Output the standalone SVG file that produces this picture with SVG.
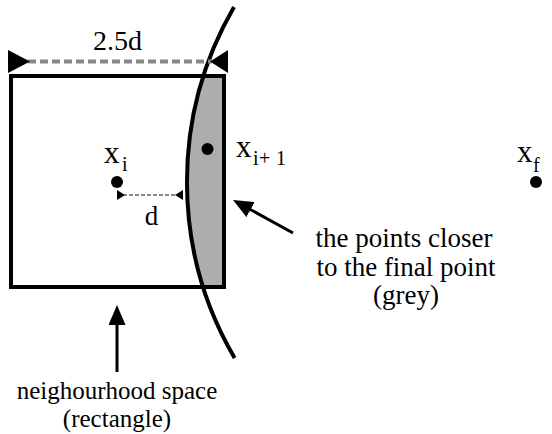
<svg xmlns="http://www.w3.org/2000/svg" width="552" height="434" viewBox="0 0 552 434" font-family="Liberation Serif, Times New Roman, DejaVu Serif, serif">
<style>
.lbl{font-size:27px;text-anchor:middle}
.var{font-size:31px}
.sub{font-size:20px}
.dim{stroke:#888;stroke-width:4;stroke-dasharray:8 4;fill:none}
.dimsm{stroke:#888;stroke-width:2;stroke-dasharray:4 2;fill:none}
.tri{fill:#000}
.arr{stroke:#000;stroke-width:3;fill:none;marker-end:url(#ah)}
</style>
<defs>
<marker id="ah" markerUnits="userSpaceOnUse" viewBox="0 0 20 17" refX="10" refY="8.5" markerWidth="20" markerHeight="17" orient="auto">
<path d="M0,0 L20,8.5 L0,17 z" fill="#000"/>
</marker>
</defs>
<g id="grey-region">
<path d="M203.5,76 L224,76 L224,287 L203.2,287 A349 349 0 0 1 203.5,76 Z" fill="#adadad"/>
</g>
<g id="rectangle">
<rect x="11" y="76" width="213" height="211" fill="none" stroke="#000" stroke-width="4"/>
</g>
<g id="circle-arc">
<path d="M234,7 A349 349 0 0 0 234.6,358" fill="none" stroke="#000" stroke-width="4"/>
</g>
<g id="dim-2-5d">
<line class="dim" x1="28" y1="61.5" x2="212" y2="61.5"/>
<polygon class="tri" points="8,50 30,61.5 8,73"/>
<polygon class="tri" points="228,50 210,61.5 228,73"/>
<text class="lbl" x="117.5" y="50" style="font-size:28px">2.5d</text>
</g>
<g id="dim-d">
<line class="dimsm" x1="123" y1="195" x2="177" y2="195"/>
<polygon class="tri" points="117,190 125,195 117,200"/>
<polygon class="tri" points="183,190 175,195 183,200"/>
<text class="lbl" x="151.5" y="225">d</text>
</g>
<g id="point-xi">
<circle cx="117" cy="182" r="6"/>
<text><tspan class="var" x="104" y="163">x</tspan><tspan class="sub" x="122" y="171">i</tspan></text>
</g>
<g id="point-xi1">
<circle cx="207.5" cy="149" r="6"/>
<text><tspan class="var" x="236" y="157">x</tspan><tspan class="sub" x="253" y="165">i</tspan><tspan class="sub" x="259" y="165">+</tspan><tspan class="sub" x="276" y="165">1</tspan></text>
</g>
<g id="point-xf">
<circle cx="536" cy="182" r="6"/>
<text><tspan class="var" x="517" y="162">x</tspan><tspan class="sub" x="533" y="172">f</tspan></text>
</g>
<g id="connectors">
<line class="arr" x1="293" y1="233" x2="241.8" y2="204.8"/>
<line class="arr" x1="117" y1="372" x2="117" y2="315"/>
</g>
<g id="label-grey">
<text class="lbl" x="404" y="247">the points closer</text>
<text class="lbl" x="406" y="276">to the final point</text>
<text class="lbl" x="406" y="304">(grey)</text>
</g>
<g id="label-rect">
<text class="lbl" x="117" y="399" style="font-size:25px">neighourhood space</text>
<text class="lbl" x="117" y="427" style="font-size:25px">(rectangle)</text>
</g>
</svg>
